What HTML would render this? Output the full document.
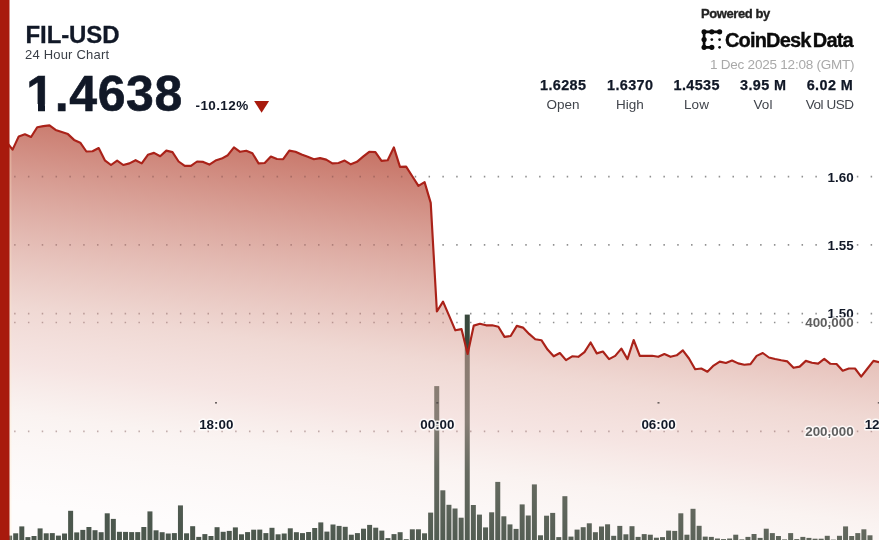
<!DOCTYPE html>
<html><head><meta charset="utf-8"><title>FIL-USD 24 Hour Chart</title>
<style>
html,body{margin:0;padding:0;background:#fff;}
body{width:879px;height:540px;overflow:hidden;position:relative;font-family:"Liberation Sans",sans-serif;color:#111827;}
svg{position:absolute;left:0;top:0;display:block}
.t{position:absolute;white-space:nowrap;line-height:1;}
.b{font-weight:bold}
.g{stroke:var(--gc,#909090);stroke-width:1.7;stroke-dasharray:1.5 12.315;fill:none}
svg text{font-family:"Liberation Sans",sans-serif;font-weight:bold;font-size:13.4px;fill:#111827;paint-order:stroke;stroke:#fff;stroke-width:3px;stroke-linejoin:round;stroke-opacity:.8}
svg text.v{fill:#5f5f5f}
</style></head><body>
<svg width="879" height="540" viewBox="0 0 879 540">
<defs>
<linearGradient id="ag" x1="300" y1="120" x2="246.3" y2="533" gradientUnits="userSpaceOnUse">
<stop offset="0" stop-color="#a6230e" stop-opacity=".70"/>
<stop offset=".536" stop-color="#e0b1a7" stop-opacity=".49"/>
<stop offset=".667" stop-color="#eac3be" stop-opacity=".44"/>
<stop offset=".786" stop-color="#ebcfc7" stop-opacity=".25"/>
<stop offset="1" stop-color="#f5e1e1" stop-opacity=".10"/>
</linearGradient>
<clipPath id="above"><path d="M6.45 142 L12.6 149.6 L18.75 136.4 L24.9 134.3 L31.05 137 L37.2 127.2 L43.34 126.1 L49.49 125.4 L55.64 129.9 L61.79 132 L67.94 134.1 L74.09 139.9 L80.24 142.7 L86.39 151.5 L92.54 151.2 L98.69 148 L104.83 160.3 L110.98 165 L117.13 160.6 L123.28 165 L129.43 163.4 L135.58 160.2 L141.73 163.4 L147.88 154.8 L154.03 152.9 L160.18 156.2 L166.32 150.6 L172.47 152.1 L178.62 161.5 L184.77 165.9 L190.92 165.9 L197.07 161.5 L203.22 161.9 L209.37 164.6 L215.52 160.6 L221.67 158.6 L227.81 155.2 L233.96 147.4 L240.11 151.8 L246.26 150.8 L252.41 153.3 L258.56 163.4 L264.71 163 L270.86 156.5 L277.01 159 L283.16 159.2 L289.31 150.6 L295.45 151.8 L301.6 154.6 L307.75 156.7 L313.9 159.2 L320.05 158.1 L326.2 159.6 L332.35 163.4 L338.5 163 L344.65 160.6 L350.8 164.3 L356.94 161.8 L363.09 156.7 L369.24 151.8 L375.39 152.1 L381.54 160.9 L387.69 160.2 L393.84 147.4 L399.99 166.9 L406.14 166.6 L412.29 176.25 L418.43 185.9 L424.58 182.1 L430.73 202.9 L436.88 311.5 L443.03 301.6 L449.18 315.95 L455.33 330.3 L461.48 329.1 L467.63 354 L473.78 325.6 L479.92 323.8 L486.07 325.3 L492.22 325.3 L498.37 326.8 L504.52 336.9 L510.67 336 L516.82 325.9 L522.97 327.6 L529.12 333.9 L535.26 339.2 L541.41 340.2 L547.56 349.6 L553.71 356.3 L559.86 353 L566.01 360.1 L572.16 356.3 L578.31 356.8 L584.46 352.2 L590.61 342.5 L596.75 353.4 L602.9 351.5 L609.05 359.1 L615.2 355.9 L621.35 348.6 L627.5 359.1 L633.65 340 L639.8 355.9 L645.95 355.9 L652.1 355.7 L658.25 356.8 L664.39 354.1 L670.54 356.8 L676.69 355.3 L682.84 350.3 L688.99 358.5 L695.14 369.2 L701.29 368.5 L707.44 371.7 L713.59 365.6 L719.74 361.6 L725.88 363 L732.03 360.5 L738.18 363.4 L744.33 364.7 L750.48 364.1 L756.63 355.9 L762.78 353 L768.93 357.5 L775.08 359 L781.23 360.3 L787.37 361.4 L793.52 367.8 L799.67 366.6 L805.82 360.9 L811.97 362.8 L818.12 363.6 L824.27 358.9 L830.42 363.8 L836.57 364 L842.72 370.7 L848.86 368.5 L855.01 368.5 L861.16 376.6 L867.31 368.75 L873.46 360.9 L879.61 362.3 L880 0 L0 0 Z"/></clipPath>
<clipPath id="below"><path d="M6.45 142 L12.6 149.6 L18.75 136.4 L24.9 134.3 L31.05 137 L37.2 127.2 L43.34 126.1 L49.49 125.4 L55.64 129.9 L61.79 132 L67.94 134.1 L74.09 139.9 L80.24 142.7 L86.39 151.5 L92.54 151.2 L98.69 148 L104.83 160.3 L110.98 165 L117.13 160.6 L123.28 165 L129.43 163.4 L135.58 160.2 L141.73 163.4 L147.88 154.8 L154.03 152.9 L160.18 156.2 L166.32 150.6 L172.47 152.1 L178.62 161.5 L184.77 165.9 L190.92 165.9 L197.07 161.5 L203.22 161.9 L209.37 164.6 L215.52 160.6 L221.67 158.6 L227.81 155.2 L233.96 147.4 L240.11 151.8 L246.26 150.8 L252.41 153.3 L258.56 163.4 L264.71 163 L270.86 156.5 L277.01 159 L283.16 159.2 L289.31 150.6 L295.45 151.8 L301.6 154.6 L307.75 156.7 L313.9 159.2 L320.05 158.1 L326.2 159.6 L332.35 163.4 L338.5 163 L344.65 160.6 L350.8 164.3 L356.94 161.8 L363.09 156.7 L369.24 151.8 L375.39 152.1 L381.54 160.9 L387.69 160.2 L393.84 147.4 L399.99 166.9 L406.14 166.6 L412.29 176.25 L418.43 185.9 L424.58 182.1 L430.73 202.9 L436.88 311.5 L443.03 301.6 L449.18 315.95 L455.33 330.3 L461.48 329.1 L467.63 354 L473.78 325.6 L479.92 323.8 L486.07 325.3 L492.22 325.3 L498.37 326.8 L504.52 336.9 L510.67 336 L516.82 325.9 L522.97 327.6 L529.12 333.9 L535.26 339.2 L541.41 340.2 L547.56 349.6 L553.71 356.3 L559.86 353 L566.01 360.1 L572.16 356.3 L578.31 356.8 L584.46 352.2 L590.61 342.5 L596.75 353.4 L602.9 351.5 L609.05 359.1 L615.2 355.9 L621.35 348.6 L627.5 359.1 L633.65 340 L639.8 355.9 L645.95 355.9 L652.1 355.7 L658.25 356.8 L664.39 354.1 L670.54 356.8 L676.69 355.3 L682.84 350.3 L688.99 358.5 L695.14 369.2 L701.29 368.5 L707.44 371.7 L713.59 365.6 L719.74 361.6 L725.88 363 L732.03 360.5 L738.18 363.4 L744.33 364.7 L750.48 364.1 L756.63 355.9 L762.78 353 L768.93 357.5 L775.08 359 L781.23 360.3 L787.37 361.4 L793.52 367.8 L799.67 366.6 L805.82 360.9 L811.97 362.8 L818.12 363.6 L824.27 358.9 L830.42 363.8 L836.57 364 L842.72 370.7 L848.86 368.5 L855.01 368.5 L861.16 376.6 L867.31 368.75 L873.46 360.9 L879.61 362.3 L879.61 540 L6.45 540 Z"/></clipPath>
</defs>
<g fill="#39483d"><rect x="7.1" y="535.6" width="5" height="4.4"/><rect x="13.2" y="533.3" width="5" height="6.7"/><rect x="19.3" y="526.4" width="5" height="13.6"/><rect x="25.4" y="537.1" width="5" height="2.9"/><rect x="31.51" y="536" width="5" height="4"/><rect x="37.61" y="528.4" width="5" height="11.6"/><rect x="43.71" y="533.3" width="5" height="6.7"/><rect x="49.81" y="533.1" width="5" height="6.9"/><rect x="55.91" y="535.6" width="5" height="4.4"/><rect x="62.02" y="533.5" width="5" height="6.5"/><rect x="68.12" y="510.8" width="5" height="29.2"/><rect x="74.22" y="532.4" width="5" height="7.6"/><rect x="80.32" y="529.9" width="5" height="10.1"/><rect x="86.42" y="527" width="5" height="13"/><rect x="92.53" y="530.2" width="5" height="9.8"/><rect x="98.63" y="532.2" width="5" height="7.8"/><rect x="104.73" y="513.3" width="5" height="26.7"/><rect x="110.83" y="518.9" width="5" height="21.1"/><rect x="116.93" y="531.8" width="5" height="8.2"/><rect x="123.04" y="531.9" width="5" height="8.1"/><rect x="129.14" y="532.1" width="5" height="7.9"/><rect x="135.24" y="532.1" width="5" height="7.9"/><rect x="141.34" y="527" width="5" height="13"/><rect x="147.44" y="511.4" width="5" height="28.6"/><rect x="153.55" y="530.3" width="5" height="9.7"/><rect x="159.65" y="532.2" width="5" height="7.8"/><rect x="165.75" y="533.5" width="5" height="6.5"/><rect x="171.85" y="533.1" width="5" height="6.9"/><rect x="177.95" y="505.4" width="5" height="34.6"/><rect x="184.06" y="533.3" width="5" height="6.7"/><rect x="190.16" y="526.2" width="5" height="13.8"/><rect x="196.26" y="536.9" width="5" height="3.1"/><rect x="202.36" y="534.1" width="5" height="5.9"/><rect x="208.46" y="536" width="5" height="4"/><rect x="214.57" y="527.2" width="5" height="12.8"/><rect x="220.67" y="531.8" width="5" height="8.2"/><rect x="226.77" y="530.9" width="5" height="9.1"/><rect x="232.87" y="527.4" width="5" height="12.6"/><rect x="238.97" y="534.3" width="5" height="5.7"/><rect x="245.08" y="532.1" width="5" height="7.9"/><rect x="251.18" y="529.7" width="5" height="10.3"/><rect x="257.28" y="529.6" width="5" height="10.4"/><rect x="263.38" y="533.1" width="5" height="6.9"/><rect x="269.48" y="527.8" width="5" height="12.2"/><rect x="275.59" y="534.3" width="5" height="5.7"/><rect x="281.69" y="533.5" width="5" height="6.5"/><rect x="287.79" y="528.3" width="5" height="11.7"/><rect x="293.89" y="532.2" width="5" height="7.8"/><rect x="299.99" y="533.1" width="5" height="6.9"/><rect x="306.1" y="532" width="5" height="8"/><rect x="312.2" y="528" width="5" height="12"/><rect x="318.3" y="522.4" width="5" height="17.6"/><rect x="324.4" y="531.6" width="5" height="8.4"/><rect x="330.5" y="524.5" width="5" height="15.5"/><rect x="336.61" y="525.9" width="5" height="14.1"/><rect x="342.71" y="526.8" width="5" height="13.2"/><rect x="348.81" y="534.7" width="5" height="5.3"/><rect x="354.91" y="533.1" width="5" height="6.9"/><rect x="361.01" y="528.7" width="5" height="11.3"/><rect x="367.12" y="524.9" width="5" height="15.1"/><rect x="373.22" y="527.7" width="5" height="12.3"/><rect x="379.32" y="530.6" width="5" height="9.4"/><rect x="385.42" y="538.1" width="5" height="1.9"/><rect x="391.52" y="534.1" width="5" height="5.9"/><rect x="397.63" y="532.2" width="5" height="7.8"/><rect x="403.73" y="539.2" width="5" height="0.8"/><rect x="409.83" y="529.3" width="5" height="10.7"/><rect x="415.93" y="529.3" width="5" height="10.7"/><rect x="422.03" y="533.3" width="5" height="6.7"/><rect x="428.14" y="512.6" width="5" height="27.4"/><rect x="434.24" y="386.1" width="5" height="153.9"/><rect x="440.34" y="490.3" width="5" height="49.7"/><rect x="446.44" y="504.8" width="5" height="35.2"/><rect x="452.54" y="508.5" width="5" height="31.5"/><rect x="458.65" y="517.7" width="5" height="22.3"/><rect x="464.75" y="314.6" width="5" height="225.4"/><rect x="470.85" y="505" width="5" height="35"/><rect x="476.95" y="514.6" width="5" height="25.4"/><rect x="483.05" y="527.4" width="5" height="12.6"/><rect x="489.16" y="512.3" width="5" height="27.7"/><rect x="495.26" y="481.9" width="5" height="58.1"/><rect x="501.36" y="516.3" width="5" height="23.7"/><rect x="507.46" y="524.4" width="5" height="15.6"/><rect x="513.56" y="528.9" width="5" height="11.1"/><rect x="519.67" y="504.4" width="5" height="35.6"/><rect x="525.77" y="515.5" width="5" height="24.5"/><rect x="531.87" y="484.4" width="5" height="55.6"/><rect x="537.97" y="535.3" width="5" height="4.7"/><rect x="544.07" y="515.7" width="5" height="24.3"/><rect x="550.18" y="512.9" width="5" height="27.1"/><rect x="556.28" y="537.1" width="5" height="2.9"/><rect x="562.38" y="496.2" width="5" height="43.8"/><rect x="568.48" y="536.6" width="5" height="3.4"/><rect x="574.58" y="529.6" width="5" height="10.4"/><rect x="580.69" y="527.2" width="5" height="12.8"/><rect x="586.79" y="523.3" width="5" height="16.7"/><rect x="592.89" y="532.2" width="5" height="7.8"/><rect x="598.99" y="526.5" width="5" height="13.5"/><rect x="605.09" y="524.3" width="5" height="15.7"/><rect x="611.2" y="535.8" width="5" height="4.2"/><rect x="617.3" y="525.9" width="5" height="14.1"/><rect x="623.4" y="534.3" width="5" height="5.7"/><rect x="629.5" y="526.2" width="5" height="13.8"/><rect x="635.6" y="536.9" width="5" height="3.1"/><rect x="641.71" y="534.1" width="5" height="5.9"/><rect x="647.81" y="534.7" width="5" height="5.3"/><rect x="653.91" y="537.7" width="5" height="2.3"/><rect x="660.01" y="537.1" width="5" height="2.9"/><rect x="666.11" y="530.6" width="5" height="9.4"/><rect x="672.22" y="530.9" width="5" height="9.1"/><rect x="678.32" y="513.3" width="5" height="26.7"/><rect x="684.42" y="534.7" width="5" height="5.3"/><rect x="690.52" y="508.8" width="5" height="31.2"/><rect x="696.62" y="525.8" width="5" height="14.2"/><rect x="702.73" y="536.6" width="5" height="3.4"/><rect x="708.83" y="536.9" width="5" height="3.1"/><rect x="714.93" y="538.5" width="5" height="1.5"/><rect x="721.03" y="539.1" width="5" height="0.9"/><rect x="727.13" y="538.5" width="5" height="1.5"/><rect x="733.24" y="534.7" width="5" height="5.3"/><rect x="739.34" y="539.4" width="5" height="0.6"/><rect x="745.44" y="536.9" width="5" height="3.1"/><rect x="751.54" y="534" width="5" height="6"/><rect x="757.64" y="537.9" width="5" height="2.1"/><rect x="763.75" y="528.7" width="5" height="11.3"/><rect x="769.85" y="533.1" width="5" height="6.9"/><rect x="775.95" y="536" width="5" height="4"/><rect x="782.05" y="539.4" width="5" height="0.6"/><rect x="788.15" y="533.1" width="5" height="6.9"/><rect x="794.26" y="539.1" width="5" height="0.9"/><rect x="800.36" y="536.9" width="5" height="3.1"/><rect x="806.46" y="537.9" width="5" height="2.1"/><rect x="812.56" y="538.7" width="5" height="1.3"/><rect x="818.66" y="538.7" width="5" height="1.3"/><rect x="824.77" y="535.8" width="5" height="4.2"/><rect x="830.87" y="539.6" width="5" height="0.4"/><rect x="836.97" y="535.8" width="5" height="4.2"/><rect x="843.07" y="526.4" width="5" height="13.6"/><rect x="849.17" y="536" width="5" height="4"/><rect x="855.28" y="533.1" width="5" height="6.9"/><rect x="861.38" y="529.3" width="5" height="10.7"/><rect x="867.48" y="535.3" width="5" height="4.7"/></g>
<path d="M6.45 142 L12.6 149.6 L18.75 136.4 L24.9 134.3 L31.05 137 L37.2 127.2 L43.34 126.1 L49.49 125.4 L55.64 129.9 L61.79 132 L67.94 134.1 L74.09 139.9 L80.24 142.7 L86.39 151.5 L92.54 151.2 L98.69 148 L104.83 160.3 L110.98 165 L117.13 160.6 L123.28 165 L129.43 163.4 L135.58 160.2 L141.73 163.4 L147.88 154.8 L154.03 152.9 L160.18 156.2 L166.32 150.6 L172.47 152.1 L178.62 161.5 L184.77 165.9 L190.92 165.9 L197.07 161.5 L203.22 161.9 L209.37 164.6 L215.52 160.6 L221.67 158.6 L227.81 155.2 L233.96 147.4 L240.11 151.8 L246.26 150.8 L252.41 153.3 L258.56 163.4 L264.71 163 L270.86 156.5 L277.01 159 L283.16 159.2 L289.31 150.6 L295.45 151.8 L301.6 154.6 L307.75 156.7 L313.9 159.2 L320.05 158.1 L326.2 159.6 L332.35 163.4 L338.5 163 L344.65 160.6 L350.8 164.3 L356.94 161.8 L363.09 156.7 L369.24 151.8 L375.39 152.1 L381.54 160.9 L387.69 160.2 L393.84 147.4 L399.99 166.9 L406.14 166.6 L412.29 176.25 L418.43 185.9 L424.58 182.1 L430.73 202.9 L436.88 311.5 L443.03 301.6 L449.18 315.95 L455.33 330.3 L461.48 329.1 L467.63 354 L473.78 325.6 L479.92 323.8 L486.07 325.3 L492.22 325.3 L498.37 326.8 L504.52 336.9 L510.67 336 L516.82 325.9 L522.97 327.6 L529.12 333.9 L535.26 339.2 L541.41 340.2 L547.56 349.6 L553.71 356.3 L559.86 353 L566.01 360.1 L572.16 356.3 L578.31 356.8 L584.46 352.2 L590.61 342.5 L596.75 353.4 L602.9 351.5 L609.05 359.1 L615.2 355.9 L621.35 348.6 L627.5 359.1 L633.65 340 L639.8 355.9 L645.95 355.9 L652.1 355.7 L658.25 356.8 L664.39 354.1 L670.54 356.8 L676.69 355.3 L682.84 350.3 L688.99 358.5 L695.14 369.2 L701.29 368.5 L707.44 371.7 L713.59 365.6 L719.74 361.6 L725.88 363 L732.03 360.5 L738.18 363.4 L744.33 364.7 L750.48 364.1 L756.63 355.9 L762.78 353 L768.93 357.5 L775.08 359 L781.23 360.3 L787.37 361.4 L793.52 367.8 L799.67 366.6 L805.82 360.9 L811.97 362.8 L818.12 363.6 L824.27 358.9 L830.42 363.8 L836.57 364 L842.72 370.7 L848.86 368.5 L855.01 368.5 L861.16 376.6 L867.31 368.75 L873.46 360.9 L879.61 362.3 L879.61 540 L6.45 540 Z" fill="url(#ag)"/>
<g clip-path="url(#above)"><line class="g" x1="14.1" y1="176.7" x2="879" y2="176.7"/><line class="g" x1="14.1" y1="244.8" x2="879" y2="244.8"/><line class="g" x1="14.1" y1="313.7" x2="879" y2="313.7"/><line class="g" x1="14.1" y1="322.5" x2="879" y2="322.5"/><line class="g" x1="14.1" y1="431.3" x2="879" y2="431.3"/></g>
<g clip-path="url(#below)" opacity=".4" style="--gc:#6a4040"><line class="g" x1="14.1" y1="176.7" x2="879" y2="176.7"/><line class="g" x1="14.1" y1="244.8" x2="879" y2="244.8"/><line class="g" x1="14.1" y1="313.7" x2="879" y2="313.7"/><line class="g" x1="14.1" y1="322.5" x2="879" y2="322.5"/><line class="g" x1="14.1" y1="431.3" x2="879" y2="431.3"/></g>
<rect clip-path="url(#below)" x="9.4" y="120" width="2" height="420" fill="#ffe9c8" opacity=".3"/>
<path d="M6.45 142 L12.6 149.6 L18.75 136.4 L24.9 134.3 L31.05 137 L37.2 127.2 L43.34 126.1 L49.49 125.4 L55.64 129.9 L61.79 132 L67.94 134.1 L74.09 139.9 L80.24 142.7 L86.39 151.5 L92.54 151.2 L98.69 148 L104.83 160.3 L110.98 165 L117.13 160.6 L123.28 165 L129.43 163.4 L135.58 160.2 L141.73 163.4 L147.88 154.8 L154.03 152.9 L160.18 156.2 L166.32 150.6 L172.47 152.1 L178.62 161.5 L184.77 165.9 L190.92 165.9 L197.07 161.5 L203.22 161.9 L209.37 164.6 L215.52 160.6 L221.67 158.6 L227.81 155.2 L233.96 147.4 L240.11 151.8 L246.26 150.8 L252.41 153.3 L258.56 163.4 L264.71 163 L270.86 156.5 L277.01 159 L283.16 159.2 L289.31 150.6 L295.45 151.8 L301.6 154.6 L307.75 156.7 L313.9 159.2 L320.05 158.1 L326.2 159.6 L332.35 163.4 L338.5 163 L344.65 160.6 L350.8 164.3 L356.94 161.8 L363.09 156.7 L369.24 151.8 L375.39 152.1 L381.54 160.9 L387.69 160.2 L393.84 147.4 L399.99 166.9 L406.14 166.6 L412.29 176.25 L418.43 185.9 L424.58 182.1 L430.73 202.9 L436.88 311.5 L443.03 301.6 L449.18 315.95 L455.33 330.3 L461.48 329.1 L467.63 354 L473.78 325.6 L479.92 323.8 L486.07 325.3 L492.22 325.3 L498.37 326.8 L504.52 336.9 L510.67 336 L516.82 325.9 L522.97 327.6 L529.12 333.9 L535.26 339.2 L541.41 340.2 L547.56 349.6 L553.71 356.3 L559.86 353 L566.01 360.1 L572.16 356.3 L578.31 356.8 L584.46 352.2 L590.61 342.5 L596.75 353.4 L602.9 351.5 L609.05 359.1 L615.2 355.9 L621.35 348.6 L627.5 359.1 L633.65 340 L639.8 355.9 L645.95 355.9 L652.1 355.7 L658.25 356.8 L664.39 354.1 L670.54 356.8 L676.69 355.3 L682.84 350.3 L688.99 358.5 L695.14 369.2 L701.29 368.5 L707.44 371.7 L713.59 365.6 L719.74 361.6 L725.88 363 L732.03 360.5 L738.18 363.4 L744.33 364.7 L750.48 364.1 L756.63 355.9 L762.78 353 L768.93 357.5 L775.08 359 L781.23 360.3 L787.37 361.4 L793.52 367.8 L799.67 366.6 L805.82 360.9 L811.97 362.8 L818.12 363.6 L824.27 358.9 L830.42 363.8 L836.57 364 L842.72 370.7 L848.86 368.5 L855.01 368.5 L861.16 376.6 L867.31 368.75 L873.46 360.9 L879.61 362.3" fill="none" stroke="#aa2219" stroke-width="2.15" stroke-linejoin="round"/>
<rect x="0" y="0" width="9.5" height="540" fill="#a81a0d"/>
<g fill="#4a4444" opacity=".8"><rect x="215" y="402" width="2" height="1.6"/><rect x="436.3" y="402" width="2" height="1.6"/><rect x="657.5" y="402" width="2" height="1.6"/><rect x="877.8" y="402" width="2" height="1.6"/></g>
<text x="216.3" y="428.6" text-anchor="middle">18:00</text>
<text x="437.4" y="428.6" text-anchor="middle">00:00</text>
<text x="658.5" y="428.6" text-anchor="middle">06:00</text>
<text x="881.8" y="428.6" text-anchor="middle">12:00</text>
<text x="853.6" y="181.5" text-anchor="end">1.60</text>
<text x="853.6" y="249.6" text-anchor="end">1.55</text>
<text x="853.6" y="318.4" text-anchor="end">1.50</text>
<text class="v" x="853.6" y="327.1" text-anchor="end">400,000</text>
<text class="v" x="853.6" y="435.9" text-anchor="end">200,000</text>
<!-- logo -->
<g fill="#0b0b0b" stroke="#0b0b0b" stroke-width="2.7" stroke-linecap="round" stroke-linejoin="round">
<path d="M719.6 31.8 L704.1 31.8 L704.1 47.3 L711.8 47.3" fill="none"/>
<g stroke="none"><circle cx="704.1" cy="31.8" r="2.6"/><circle cx="711.8" cy="31.8" r="2.6"/><circle cx="719.6" cy="31.8" r="2.6"/><circle cx="704.1" cy="39.6" r="2.6"/><circle cx="704.1" cy="47.3" r="2.6"/><circle cx="711.8" cy="47.3" r="2.6"/>
<circle cx="711.8" cy="39.6" r="1.35"/><circle cx="719.6" cy="39.6" r="1.35"/><circle cx="719.6" cy="47.3" r="1.35"/></g>
</g>
<path d="M254.1 101 L269.1 101 L261.6 112.8 Z" fill="#a81a0d"/>
</svg>
<div class="t b" id="sym" style="left:25.5px;top:23px;font-size:24px;-webkit-text-stroke:.3px #111827;letter-spacing:-.1px">FIL-USD</div>
<div class="t" id="sub" style="left:25px;top:48px;font-size:13px;letter-spacing:.2px;color:#3a3f47">24 Hour Chart</div>
<div class="t b" id="px" style="left:26.2px;top:68.6px;font-size:50px;letter-spacing:.65px;-webkit-text-stroke:.6px #111827">1.4638</div>
<div style="position:absolute;left:28px;top:104.4px;width:10px;height:7.4px;background:#fff"></div><div style="position:absolute;left:45px;top:104.4px;width:8.6px;height:7.4px;background:#fff"></div>
<div class="t b" id="chg" style="left:195.5px;top:99px;font-size:13.5px;letter-spacing:.4px">-10.12%</div>
<div class="t b" id="pw" style="left:701px;top:7.4px;font-size:13px;letter-spacing:-.41px;color:#222;-webkit-text-stroke:.35px #222">Powered by</div>
<div class="t b" id="cd" style="left:725px;top:29.6px;font-size:20px;letter-spacing:-.84px;word-spacing:-2.4px;color:#0b0b0b;-webkit-text-stroke:.35px #0b0b0b">CoinDesk Data</div>
<div class="t" id="dt" style="right:24.6px;top:57.6px;font-size:13.5px;letter-spacing:-.22px;color:#a9a9a9">1 Dec 2025 12:08 (GMT)</div>
<div class="t b" id="v0" style="left:523px;width:80px;text-align:center;top:77.9px;font-size:14.4px;letter-spacing:.4px;text-indent:.4px;-webkit-text-stroke:.25px #111827">1.6285</div>
<div class="t" id="l0" style="left:523px;width:80px;text-align:center;top:97.5px;font-size:13.5px;color:#41454c;">Open</div>
<div class="t b" id="v1" style="left:590px;width:80px;text-align:center;top:77.9px;font-size:14.4px;letter-spacing:.4px;text-indent:.4px;-webkit-text-stroke:.25px #111827">1.6370</div>
<div class="t" id="l1" style="left:590px;width:80px;text-align:center;top:97.5px;font-size:13.5px;color:#41454c;">High</div>
<div class="t b" id="v2" style="left:656.5px;width:80px;text-align:center;top:77.9px;font-size:14.4px;letter-spacing:.4px;text-indent:.4px;-webkit-text-stroke:.25px #111827">1.4535</div>
<div class="t" id="l2" style="left:656.5px;width:80px;text-align:center;top:97.5px;font-size:13.5px;color:#41454c;">Low</div>
<div class="t b" id="v3" style="left:723px;width:80px;text-align:center;top:77.9px;font-size:14.4px;letter-spacing:.4px;text-indent:.4px;-webkit-text-stroke:.25px #111827">3.95 M</div>
<div class="t" id="l3" style="left:723px;width:80px;text-align:center;top:97.5px;font-size:13.5px;color:#41454c;">Vol</div>
<div class="t b" id="v4" style="left:789.7px;width:80px;text-align:center;top:77.9px;font-size:14.4px;letter-spacing:.4px;text-indent:.4px;-webkit-text-stroke:.25px #111827">6.02 M</div>
<div class="t" id="l4" style="left:789.7px;width:80px;text-align:center;top:97.5px;font-size:13.5px;color:#41454c;letter-spacing:-.45px;">Vol USD</div>
</body></html>
